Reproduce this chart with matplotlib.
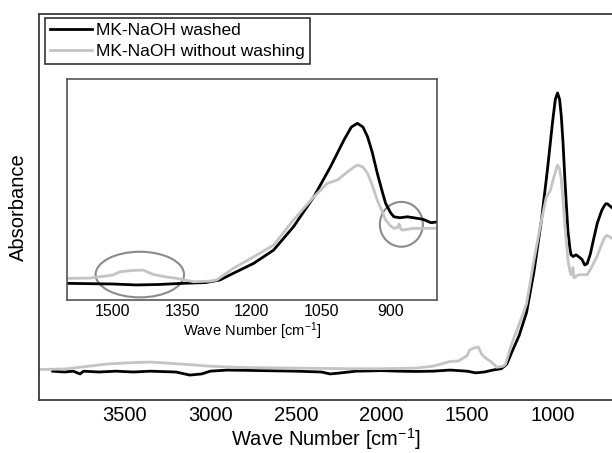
import matplotlib
matplotlib.use("Agg")
import matplotlib.pyplot as plt
from matplotlib.patches import Ellipse

plt.rcParams['font.family'] = ['Liberation Sans', 'DejaVu Sans']
plt.rcParams['mathtext.fontset'] = 'custom'
plt.rcParams['mathtext.rm'] = 'Liberation Sans'
plt.rcParams['mathtext.it'] = 'Liberation Sans:italic'
plt.rcParams['mathtext.default'] = 'regular'

# ---- data (wavenumber cm-1, absorbance, normalised) ----
washed_wn = [3920, 3850, 3800, 3760, 3740, 3650, 3550, 3450, 3350, 3200, 3120, 3050,
             3000, 2900, 2700, 2500, 2350, 2300, 2250, 2150, 2000, 1900, 1800, 1700,
             1600, 1550, 1500, 1450, 1400, 1350, 1300, 1269, 1240, 1196, 1153, 1110,
             1066, 1030, 1001, 985, 972, 960, 950, 940, 929, 918, 911, 900, 893, 880,
             864, 842, 830, 813, 799, 780, 763, 740, 714, 700, 690, 680, 670, 654]
washed_abs = [-0.004, -0.007, -0.004, -0.014, -0.004, -0.007, -0.004, -0.007, -0.004,
              -0.007, -0.018, -0.014, -0.004, 0.0, -0.002, -0.004, -0.007, -0.014,
              -0.011, -0.004, -0.002, -0.004, -0.005, -0.004, 0.0, -0.002, -0.004,
              -0.010, -0.007, 0.0, 0.005, 0.021, 0.063, 0.125, 0.208, 0.354, 0.541,
              0.729, 0.896, 0.977, 1.0, 0.977, 0.916, 0.82, 0.688, 0.57, 0.50, 0.44,
              0.416, 0.41, 0.416, 0.406, 0.40, 0.379, 0.384, 0.42, 0.468, 0.53, 0.576,
              0.592, 0.60, 0.60, 0.594, 0.586]

nowash_wn = [4000, 3850, 3750, 3600, 3450, 3350, 3200, 3000, 2800, 2500, 2200, 2000,
             1800, 1700, 1650, 1600, 1550, 1500, 1485, 1460, 1435, 1413, 1390, 1362,
             1326, 1290, 1276, 1240, 1196, 1153, 1110, 1066, 1037, 1015, 993, 980, 972,
             960, 950, 940, 929, 918, 911, 900, 893, 885, 882, 878, 875, 850, 827, 799,
             770, 743, 720, 700, 685, 670, 654]
nowash_abs = [0.002, 0.004, 0.011, 0.022, 0.027, 0.029, 0.023, 0.014, 0.009, 0.007,
              0.005, 0.005, 0.007, 0.014, 0.022, 0.031, 0.033, 0.052, 0.0725, 0.08,
              0.083, 0.056, 0.0425, 0.031, 0.010, 0.014, 0.021, 0.094, 0.166, 0.239,
              0.396, 0.541, 0.625, 0.646, 0.6975, 0.725, 0.739, 0.727, 0.6875, 0.614,
              0.52, 0.446, 0.396, 0.358, 0.344, 0.349, 0.37, 0.34, 0.333, 0.344, 0.344,
              0.344, 0.375, 0.408, 0.445, 0.475, 0.486, 0.482, 0.475]

main_ticks = [3500, 3000, 2500, 2000, 1500, 1000]
inset_ticks = [1500, 1350, 1200, 1050, 900]
labels = ["MK-NaOH washed", "MK-NaOH without washing"]

W, H = 612, 453
fig = plt.figure(figsize=(W / 100, H / 100), dpi=100)

# main axes
ax = fig.add_axes([39 / W, (H - 400) / H, (W - 39) / W, 386 / H])
ax.plot(washed_wn, washed_abs, color='black', lw=2.0, label=labels[0])
ax.plot(nowash_wn, nowash_abs, color='#c4c4c4', lw=2.0, label=labels[1])
ax.set_xlim(4000, 654)
ax.set_ylim(-0.108, 1.285)
ax.set_xticks(main_ticks)
ax.set_xticklabels([str(t) for t in main_ticks])
ax.set_yticks([])
ax.tick_params(axis='x', length=0, pad=4, labelsize=14.5)
ax.set_xlabel("Wave Number [cm$^{-1}$]", fontsize=14.5, labelpad=1)
ax.set_ylabel("Absorbance", fontsize=14.5, labelpad=8)
ax.spines['right'].set_visible(False)
for s in ['left', 'top', 'bottom']:
    ax.spines[s].set_color('#3a3a3a')
    ax.spines[s].set_linewidth(1.3)

leg = ax.legend(loc='upper left', bbox_to_anchor=(45 / W, 1 - 18 / H),
                bbox_transform=fig.transFigure, borderaxespad=0, fontsize=12.5,
                frameon=True, fancybox=False, edgecolor='black', handlelength=2.4,
                handletextpad=0.25, labelspacing=0.3, borderpad=0.3)
leg.get_frame().set_linewidth(1.2)

# inset
ai = fig.add_axes([66.7 / W, (H - 300) / H, 370.3 / W, 221 / H])
ai.plot(washed_wn, washed_abs, color='black', lw=2.0)
ai.plot(nowash_wn, nowash_abs, color='#c4c4c4', lw=2.0)
ai.set_xlim(1600, 800)
ai.set_ylim(-0.104, 1.277)
ai.set_xticks(inset_ticks)
ai.set_xticklabels([str(t) for t in inset_ticks])
ai.set_yticks([])
ai.tick_params(axis='x', length=0, pad=3, labelsize=11.5)
ai.set_xlabel("Wave Number [cm$^{-1}$]", fontsize=10.5, labelpad=1)
for s in ai.spines.values():
    s.set_color('#555555')
    s.set_linewidth(1.2)
ai.add_patch(Ellipse((1442, 0.055), 191, 0.285, fill=False, edgecolor='#8a8a8a', lw=1.5))
ai.add_patch(Ellipse((877, 0.369), 93, 0.28, fill=False, edgecolor='#8a8a8a', lw=1.5))

fig.savefig("out.png", dpi=100)
